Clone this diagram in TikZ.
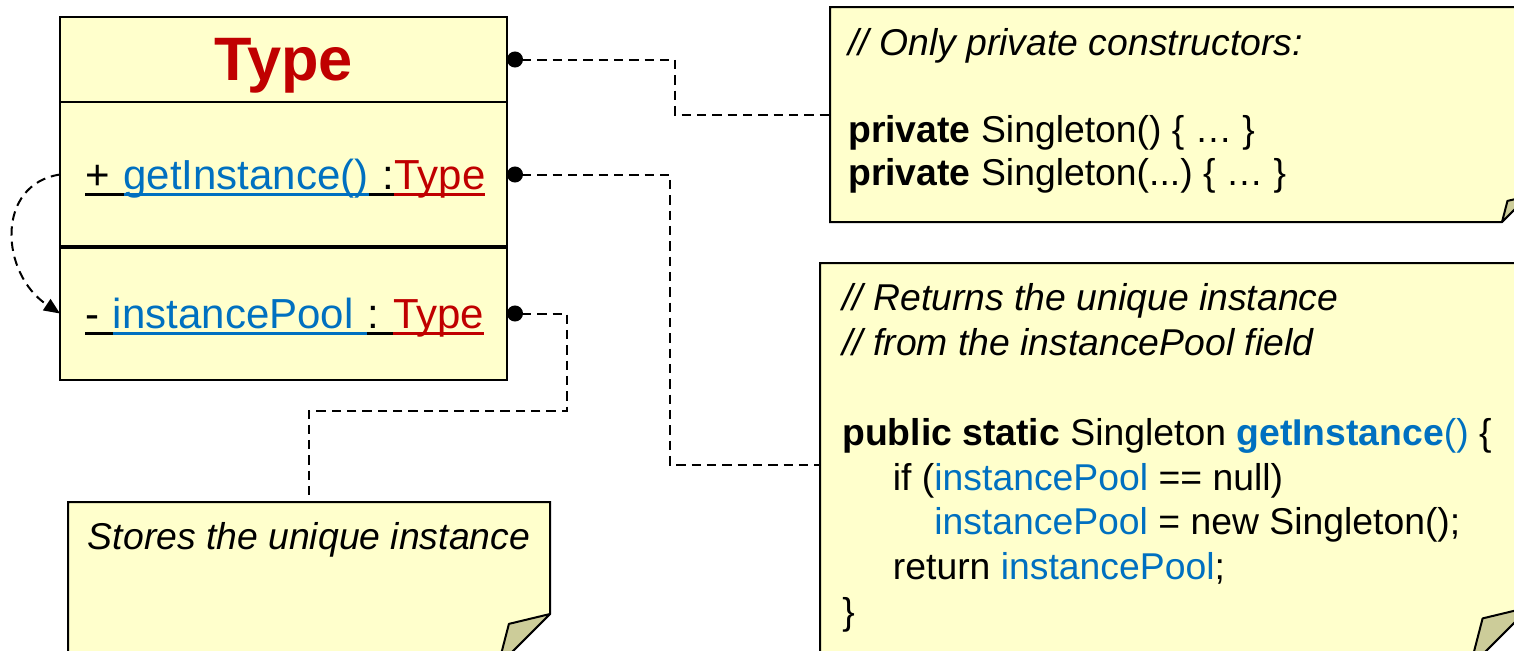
\documentclass[tikz,border=0pt]{standalone}
\usepackage{fontspec}
\setmainfont{Liberation Sans}
\frenchspacing
\usetikzlibrary{arrows.meta}
\definecolor{uml_yellow}{RGB}{255, 255, 204}
\definecolor{uml_fold}{RGB}{204, 204, 153}
\definecolor{uml_red}{RGB}{192, 0, 0}
\definecolor{uml_blue}{RGB}{0, 112, 192}
\tikzstyle{cls}=[rectangle,fill=uml_yellow,draw=black,line width=2.2pt,outer sep=0pt,
  minimum width=335.25pt,text width=297.75pt,inner xsep=18.75pt,align=left,text depth=0pt,
  font=\fontsize{31.5}{36}\selectfont]
\tikzstyle{title}=[cls,align=center,text=uml_red,font=\fontsize{46}{52}\selectfont\bfseries]
\tikzstyle{note}=[rectangle,outer sep=0pt,inner sep=0pt]
\tikzstyle{notetext}=[inner sep=0pt,align=left]
\tikzstyle{link}=[draw=black,line width=1.5pt,dash pattern=on 7pt off 4.5pt,
  {Circle[length=12pt]}-]
\tikzstyle{selfref}=[draw=black,line width=1.5pt,dash pattern=on 7pt off 4.5pt,
  -{Triangle[length=12pt,width=10pt]}]
\newcommand{\ulpart}[2]{{\color{#1}\setbox0\hbox{#2}\rlap{\rule[-4.5pt]{\wd0}{2.2pt}}\box0}}
\newcommand{\foldnote}[2]{%
  \draw[line width=1.5pt,fill=uml_yellow] (#1.north west) -- (#1.north east)
    -- ([yshift=#2]#1.south east) -- ([xshift=-#2]#1.south east) -- (#1.south west) -- cycle;
  \draw[line width=1.5pt,fill=uml_fold,line join=round] ([yshift=#2]#1.south east)
    -- ([xshift=-0.79*#2,yshift=0.81*#2]#1.south east) -- ([xshift=-#2]#1.south east) -- cycle;}

\begin{document}
\begin{tikzpicture}[x=0.75pt,y=-0.75pt]
    \useasboundingbox (0,0) rectangle (1514,650);
    \clip (0,0) rectangle (1514,650);
    \node [style=title,anchor=north west,minimum height=63.75pt] (typename) at (60,17) {Type};
    \node [style=cls,anchor=north west,minimum height=108.75pt] (opspart) at (typename.south west)
      {\ulpart{black}{+ }\ulpart{uml_blue}{getInstance()}\ulpart{black}{ :}\ulpart{uml_red}{Type}};
    \node [style=cls,anchor=north west,minimum height=99.75pt] (attrpart) at (opspart.south west)
      {\ulpart{black}{- }\ulpart{uml_blue}{instancePool }\ulpart{black}{: }\ulpart{uml_red}{Type}};
    \draw [line width=3.6pt] (attrpart.north west) to (attrpart.north east);
    \node [style=note,minimum width=523.5pt,minimum height=161.25pt,anchor=north west] (ctornote) at (830,7) {};
    \node [style=note,minimum width=532.5pt,minimum height=303pt,anchor=north west] (getnote) at (820,263) {};
    \node [style=note,minimum width=361.5pt,minimum height=123pt,anchor=north west] (poolnote) at (68,502) {};
    \foldnote{ctornote}{19.5pt}
    \foldnote{getnote}{45pt}
    \foldnote{poolnote}{39pt}
    \node [style=notetext,anchor=north west,font=\fontsize{28}{32.6}\selectfont] (ctortext) at (848,28)
      {\textit{// Only private constructors:}\\[32.6pt]
       \textbf{private} Singleton() \{ … \}\\
       \textbf{private} Singleton(...) \{ … \}};
    \node [style=notetext,anchor=north west,font=\fontsize{28}{33.7}\selectfont] (gettext) at (842,283)
      {\textit{// Returns the unique instance}\\
       \textit{// from the instancePool field}\\[33.7pt]
       \textbf{public static} Singleton \textcolor{uml_blue}{\textbf{getInstance}()} \{\\
       \hspace*{38pt}if (\textcolor{uml_blue}{instancePool} == null)\\
       \hspace*{69pt}\textcolor{uml_blue}{instancePool} = new Singleton();\\
       \hspace*{38pt}return \textcolor{uml_blue}{instancePool};\\
       \}};
    \node [style=notetext,font=\fontsize{28}{33}\selectfont] (pooltext) at (309,540)
      {\textit{Stores the unique instance}};
    \draw [style=link] (typename.east) -- ++(168,0) |- (ctornote.west);
    \draw [style=link] (opspart.east) -- ++(163,0) |- (getnote.west);
    \draw [style=link] (attrpart.east) -- ++(60,0) -- ++(0,97) -| (poolnote.north);
    \draw [style=selfref] (opspart.west) .. controls +(-65,10) and +(-60,-40) .. (attrpart.west);
  \end{tikzpicture}
\end{document}
